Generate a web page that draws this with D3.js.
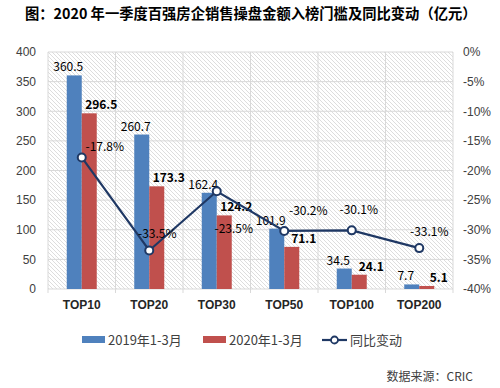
<!DOCTYPE html>
<html>
<head>
<meta charset="utf-8">
<script src="https://cdn.jsdelivr.net/npm/d3@7"></script>
<style>
  body { margin: 0; background: #fff; }
  text { font-family: "Noto Sans CJK SC", "DejaVu Sans", sans-serif; }
</style>
</head>
<body>
<script>
// chart data
const categories = ["TOP10", "TOP20", "TOP30", "TOP50", "TOP100", "TOP200"];
const values2019 = [360.5, 260.7, 162.4, 101.9, 34.5, 7.7];
const values2020 = [296.5, 173.3, 124.2, 71.1, 24.1, 5.1];
const yoyChange = [-17.8, -33.5, -23.5, -30.2, -30.1, -33.1];
const leftTicks = [0, 50, 100, 150, 200, 250, 300, 350, 400];
const rightTicks = [0, -5, -10, -15, -20, -25, -30, -35, -40];
const seriesNames = ["2019年1-3月", "2020年1-3月", "同比变动"];

const width = 500, height = 388;
const margin = { left: 48, right: 47, top: 52, bottom: 99 };
const blue = "#4F81BD", red = "#C0504D", navy = "#1F3864";

const svg = d3.select("body").append("svg")
  .attr("width", width)
  .attr("height", height);

// hatch pattern for plot background
const defs = svg.append("defs");
const pat = defs.append("pattern")
  .attr("id", "hatch")
  .attr("patternUnits", "userSpaceOnUse")
  .attr("width", 4)
  .attr("height", 4);
pat.append("path")
  .attr("d", "M-1,-1 L5,5 M-1,3 L1,5 M3,-1 L5,1")
  .attr("stroke", "#d4d4d4")
  .attr("stroke-width", 0.8);

const x0 = d3.scaleBand()
  .domain(categories)
  .range([margin.left, width - margin.right]);

const x1 = d3.scaleBand()
  .domain([0, 1])
  .range([0, 30]);

const y = d3.scaleLinear()
  .domain([0, 400])
  .range([height - margin.bottom, margin.top]);

const yR = d3.scaleLinear()
  .domain([-40, 0])
  .range([height - margin.bottom, margin.top]);

// title
svg.append("text")
  .attr("x", 25)
  .attr("y", 19)
  .attr("font-size", 14.3)
  .attr("font-weight", "bold")
  .attr("fill", "#000")
  .text("图：2020 年一季度百强房企销售操盘金额入榜门槛及同比变动（亿元）");

// plot background
svg.append("rect")
  .attr("x", margin.left)
  .attr("y", margin.top)
  .attr("width", width - margin.left - margin.right)
  .attr("height", height - margin.top - margin.bottom)
  .attr("fill", "url(#hatch)");

// gridlines
svg.append("g")
  .selectAll("line")
  .data(leftTicks)
  .join("line")
  .attr("x1", margin.left)
  .attr("x2", width - margin.right)
  .attr("y1", d => y(d))
  .attr("y2", d => y(d))
  .attr("stroke", "#d9d9d9");

svg.append("g")
  .selectAll("line")
  .data(categories.concat(["end"]))
  .join("line")
  .attr("x1", (d, i) => margin.left + i * x0.step())
  .attr("x2", (d, i) => margin.left + i * x0.step())
  .attr("y1", margin.top)
  .attr("y2", height - margin.bottom + 4)
  .attr("stroke", "#d9d9d9");

// left axis
svg.append("g")
  .attr("transform", `translate(${margin.left - 12},0)`)
  .call(d3.axisLeft(y).tickValues(leftTicks).tickSize(0).tickPadding(0))
  .call(g => g.select(".domain").remove())
  .selectAll("text")
  .attr("font-size", 12)
  .attr("fill", "#404040")
  .style("font-family", "'Liberation Sans', Arial, sans-serif");

// right axis
svg.append("g")
  .attr("transform", `translate(${width - margin.right + 10},0)`)
  .call(d3.axisRight(yR).tickValues(rightTicks).tickSize(0).tickPadding(0).tickFormat(d => d + "%"))
  .call(g => g.select(".domain").remove())
  .selectAll("text")
  .attr("font-size", 12)
  .attr("fill", "#404040")
  .style("font-family", "'Liberation Sans', Arial, sans-serif");

// category labels
svg.append("g")
  .selectAll("text")
  .data(categories)
  .join("text")
  .attr("x", d => x0(d) + x0.bandwidth() / 2)
  .attr("y", height - margin.bottom + 20)
  .attr("text-anchor", "middle")
  .attr("font-size", 12)
  .attr("font-weight", "bold")
  .attr("fill", "#262626")
  .style("font-family", "'Liberation Sans', Arial, sans-serif")
  .text(d => d);

// bars
const groups = svg.append("g")
  .selectAll("g")
  .data(categories)
  .join("g")
  .attr("transform", d => `translate(${x0(d) + x0.bandwidth() / 2 - 15},0)`);

const seriesVals = [values2019, values2020];
const seriesCols = [blue, red];

groups.selectAll("rect")
  .data((d, i) => [0, 1].map(s => ({ s, v: seriesVals[s][i] })))
  .join("rect")
  .attr("x", d => x1(d.s))
  .attr("y", d => y(d.v))
  .attr("width", x1.bandwidth())
  .attr("height", d => y(0) - y(d.v))
  .attr("fill", d => seriesCols[d.s]);

// bar value labels
groups.selectAll("text")
  .data((d, i) => [0, 1].map(s => ({ s, v: seriesVals[s][i] })))
  .join("text")
  .attr("x", d => x1(d.s) + x1.bandwidth() / 2 + (d.s === 0 ? -6 : 12))
  .attr("y", d => y(d.v) - 4)
  .attr("text-anchor", "middle")
  .attr("font-size", 12)
  .attr("font-weight", d => d.s === 1 ? "bold" : "normal")
  .attr("fill", "#000")
  .text(d => d.v.toFixed(1));

// yoy line
const line = d3.line()
  .x((d, i) => x0(categories[i]) + x0.bandwidth() / 2)
  .y(d => yR(d));

svg.append("path")
  .datum(yoyChange)
  .attr("d", line)
  .attr("fill", "none")
  .attr("stroke", navy)
  .attr("stroke-width", 2.2);

svg.append("g")
  .selectAll("circle")
  .data(yoyChange)
  .join("circle")
  .attr("cx", (d, i) => x0(categories[i]) + x0.bandwidth() / 2)
  .attr("cy", d => yR(d))
  .attr("r", 4)
  .attr("fill", "#fff")
  .attr("stroke", navy)
  .attr("stroke-width", 2);

// yoy labels (placement offsets mimic the original)
const pctOffsets = [[23, -6], [8, -12], [17, 42], [24, -16], [7, -16], [10, -12]];
svg.append("g")
  .selectAll("text")
  .data(yoyChange)
  .join("text")
  .attr("x", (d, i) => x0(categories[i]) + x0.bandwidth() / 2 + pctOffsets[i][0])
  .attr("y", (d, i) => yR(d) + pctOffsets[i][1])
  .attr("text-anchor", "middle")
  .attr("font-size", 12)
  .attr("fill", "#000")
  .text(d => d.toFixed(1) + "%");

// legend
const legend = svg.append("g").attr("transform", `translate(0,${height - 48})`);
const legX = [82, 203, 322];
legend.selectAll("rect")
  .data([0, 1])
  .join("rect")
  .attr("x", d => legX[d])
  .attr("y", -4)
  .attr("width", 23)
  .attr("height", 7)
  .attr("fill", d => seriesCols[d]);

legend.append("line")
  .attr("x1", legX[2])
  .attr("x2", legX[2] + 25)
  .attr("y1", 0)
  .attr("y2", 0)
  .attr("stroke", navy)
  .attr("stroke-width", 2.2);
legend.append("circle")
  .attr("cx", legX[2] + 12.5)
  .attr("cy", 0)
  .attr("r", 3.5)
  .attr("fill", "#fff")
  .attr("stroke", navy)
  .attr("stroke-width", 1.8);

legend.selectAll("text")
  .data(seriesNames)
  .join("text")
  .attr("x", (d, i) => legX[i] + (i === 2 ? 28 : 26))
  .attr("y", 5)
  .attr("font-size", 13)
  .attr("fill", "#404040")
  .text(d => d);

// source note
svg.append("text")
  .attr("x", 473)
  .attr("y", 381)
  .attr("text-anchor", "end")
  .attr("font-size", 12)
  .attr("fill", "#404040")
  .text("数据来源：CRIC");
</script>
</body>
</html>
